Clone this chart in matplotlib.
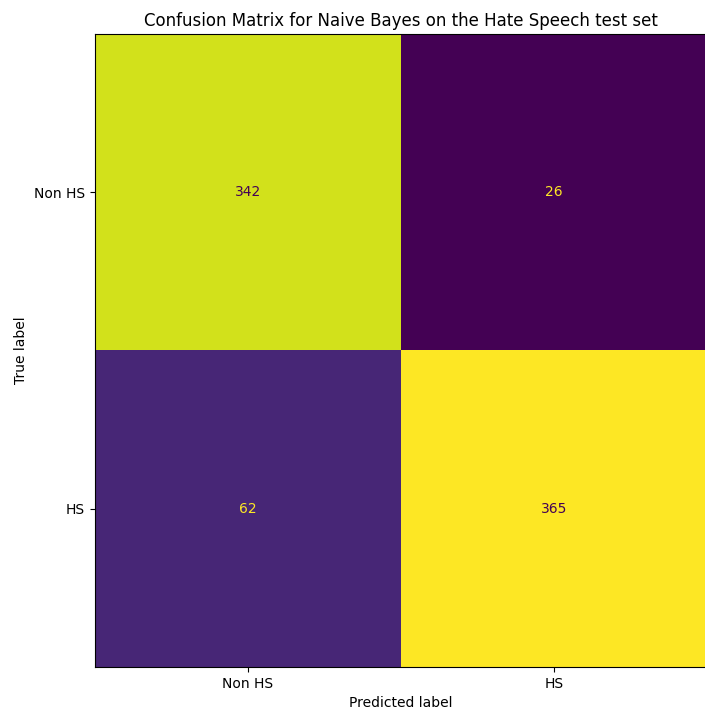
import numpy as np
import matplotlib
matplotlib.use("Agg")
import matplotlib.pyplot as plt

labels = ["Non HS", "HS"]
cm = np.array([[342, 26],
               [62, 365]])

W, H, DPI = 705, 711, 100
fig = plt.figure(figsize=(W / DPI, H / DPI), dpi=DPI)
# axes runs off the right edge, as in the cropped screenshot
ax = fig.add_axes([94.5 / W, (H - 667) / H, (707 - 94.5) / W, (667 - 34) / H])

cmap = plt.get_cmap("viridis")
im = ax.imshow(cm, cmap=cmap, aspect="auto", interpolation="nearest")

thresh = (cm.max() + cm.min()) / 2.0
for i in range(cm.shape[0]):
    for j in range(cm.shape[1]):
        color = cmap(0.0) if cm[i, j] >= thresh else cmap(1.0)
        ax.text(j, i, str(cm[i, j]), ha="center", va="center", color=color)

ax.set_xticks(range(len(labels)))
ax.set_xticklabels(labels)
ax.set_yticks(range(len(labels)))
ax.set_yticklabels(labels)
ax.set_xlabel("Predicted label")
ax.set_ylabel("True label")
ax.set_title("Confusion Matrix for Naive Bayes on the Hate Speech test set")

fig.savefig("out.png", dpi=DPI)
